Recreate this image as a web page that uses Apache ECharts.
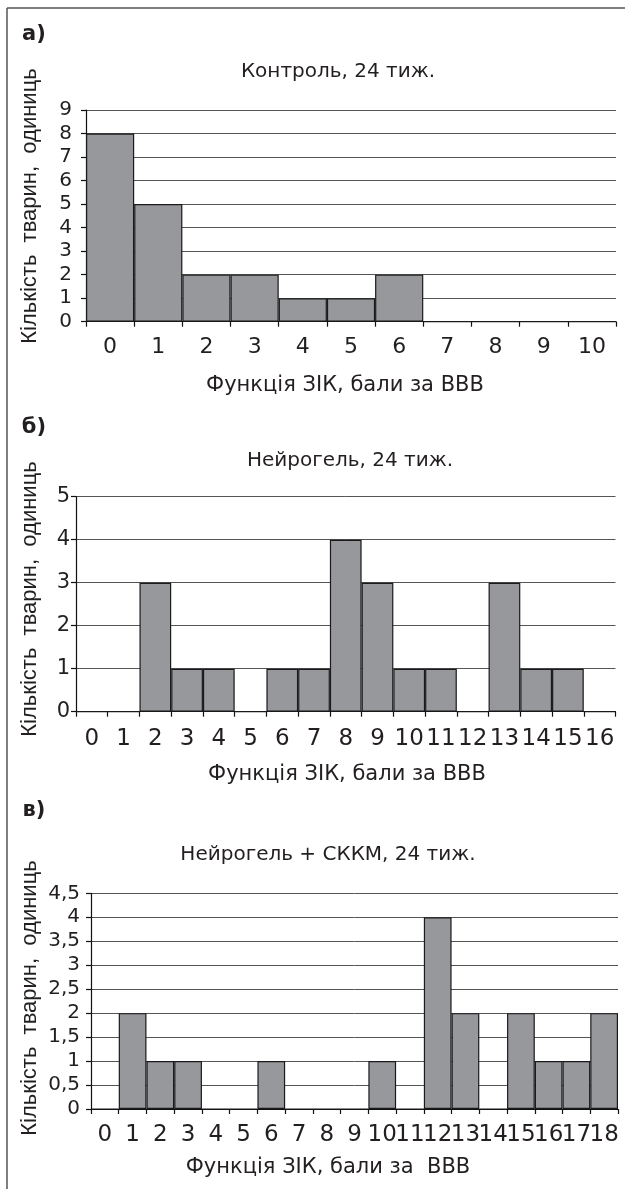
<!DOCTYPE html>
<html>
<head>
<meta charset="utf-8">
<script src="https://cdn.jsdelivr.net/npm/echarts@6/dist/echarts.min.js"></script>
<style>
  html, body { margin: 0; padding: 0; background: #fff; }
  #main { width: 625px; height: 1189px; }
</style>
</head>
<body>
<div id="main"></div>
<script>
// панель а) Контроль
var catsA = ['0', '1', '2', '3', '4', '5', '6', '7', '8', '9', '10'];
var valsA = [8, 5, 2, 2, 1, 1, 2, 0, 0, 0, 0];
// панель б) Нейрогель
var catsB = ['0', '1', '2', '3', '4', '5', '6', '7', '8', '9', '10', '11', '12', '13', '14', '15', '16'];
var valsB = [0, 0, 3, 1, 1, 0, 1, 1, 4, 3, 1, 1, 0, 3, 1, 1, 0];
// панель в) Нейрогель + СККМ
var catsC = ['0', '1', '2', '3', '4', '5', '6', '7', '8', '9', '10', '11', '12', '13', '14', '15', '16', '17', '18'];
var valsC = [0, 2, 1, 1, 0, 0, 1, 0, 0, 0, 1, 0, 4, 2, 0, 2, 1, 1, 2];

var titles = ['Контроль, 24 тиж.', 'Нейрогель, 24 тиж.', 'Нейрогель + СККМ, 24 тиж.'];
var letters = ['а)', 'б)', 'в)'];
var xNames = ['Функція ЗІК, бали за ВВВ', 'Функція ЗІК, бали за ВВВ', 'Функція ЗІК, бали за  ВВВ'];
var yName = 'Кількість  тварин,  одиниць';

var FONT = 'DejaVu Sans';
var TXT = '#231f20';

var myChart = echarts.init(document.getElementById('main'));

function xAx(idx, cats, margin, size) {
    return {
        type: 'category', gridIndex: idx, data: cats,
        axisLine: { lineStyle: { color: '#111', width: 1.2 } },
        axisTick: { show: true, length: 5, lineStyle: { color: '#111', width: 1.2 } },
        axisLabel: { interval: 0, margin: margin, color: TXT, fontFamily: FONT, fontSize: size }
    };
}

function yAx(idx, max, step, margin, size) {
    return {
        type: 'value', gridIndex: idx, min: 0, max: max, interval: step,
        axisLine: { show: true, lineStyle: { color: '#111', width: 1.2 } },
        axisTick: { show: true, length: 5, lineStyle: { color: '#111', width: 1.2 } },
        splitLine: { lineStyle: { color: '#555', width: 1 } },
        axisLabel: {
            margin: margin, color: TXT, fontFamily: FONT, fontSize: size,
            formatter: function (v) { return String(v).replace('.', ','); }
        }
    };
}

function bars(idx, vals) {
    return {
        type: 'bar', xAxisIndex: idx, yAxisIndex: idx, data: vals,
        barWidth: '100%', barCategoryGap: 0, silent: true,
        itemStyle: { color: '#97989c', borderColor: '#1a1a1a', borderWidth: 1.2 }
    };
}

function txt(x, y, s, size, extra) {
    var o = {
        type: 'text', x: x, y: y, silent: true,
        style: { text: s, fontFamily: FONT, fontSize: size, fill: TXT, align: 'center', verticalAlign: 'middle' }
    };
    if (extra) { for (var k in extra) o.style[k] = extra[k]; }
    return o;
}

var graphics = [
    { type: 'line', silent: true, shape: { x1: 7, y1: 8, x2: 625, y2: 8 }, style: { stroke: '#555', lineWidth: 1.5 } },
    { type: 'line', silent: true, shape: { x1: 7, y1: 8, x2: 7, y2: 1189 }, style: { stroke: '#555', lineWidth: 1.5 } },
    // підписи панелей
    txt(34, 35, letters[0], 21, { fontWeight: 'bold' }),
    txt(34, 428, letters[1], 21, { fontWeight: 'bold' }),
    txt(34, 811, letters[2], 21, { fontWeight: 'bold' }),
    // заголовки
    txt(338, 72, titles[0], 20),
    txt(350, 461, titles[1], 20),
    txt(328, 855, titles[2], 20),
    // назви осі X
    txt(345, 386, xNames[0], 21),
    txt(347, 775, xNames[1], 21),
    txt(328, 1168, xNames[2], 21)
];
// назви осі Y (вертикальні)
[206, 599, 998].forEach(function (cy) {
    graphics.push({
        type: 'text', x: 30, y: cy, rotation: Math.PI / 2, silent: true,
        style: { text: yName, fontFamily: 'Liberation Sans', fontSize: 22, fill: TXT, align: 'center', verticalAlign: 'middle' }
    });
});

var option = {
    animation: false,
    backgroundColor: '#fff',
    grid: [
        { left: 86, top: 110, width: 530, height: 211.7 },
        { left: 76, top: 496.7, width: 539.5, height: 215 },
        { left: 91, top: 893.3, width: 527, height: 215.7 }
    ],
    xAxis: [xAx(0, catsA, 15, 22), xAx(1, catsB, 16, 23), xAx(2, catsC, 15, 23)],
    yAxis: [yAx(0, 9, 1, 14, 20), yAx(1, 5, 1, 6, 21), yAx(2, 4.5, 0.5, 11, 20)],
    series: [bars(0, valsA), bars(1, valsB), bars(2, valsC)],
    graphic: graphics
};

myChart.setOption(option);
</script>
</body>
</html>
